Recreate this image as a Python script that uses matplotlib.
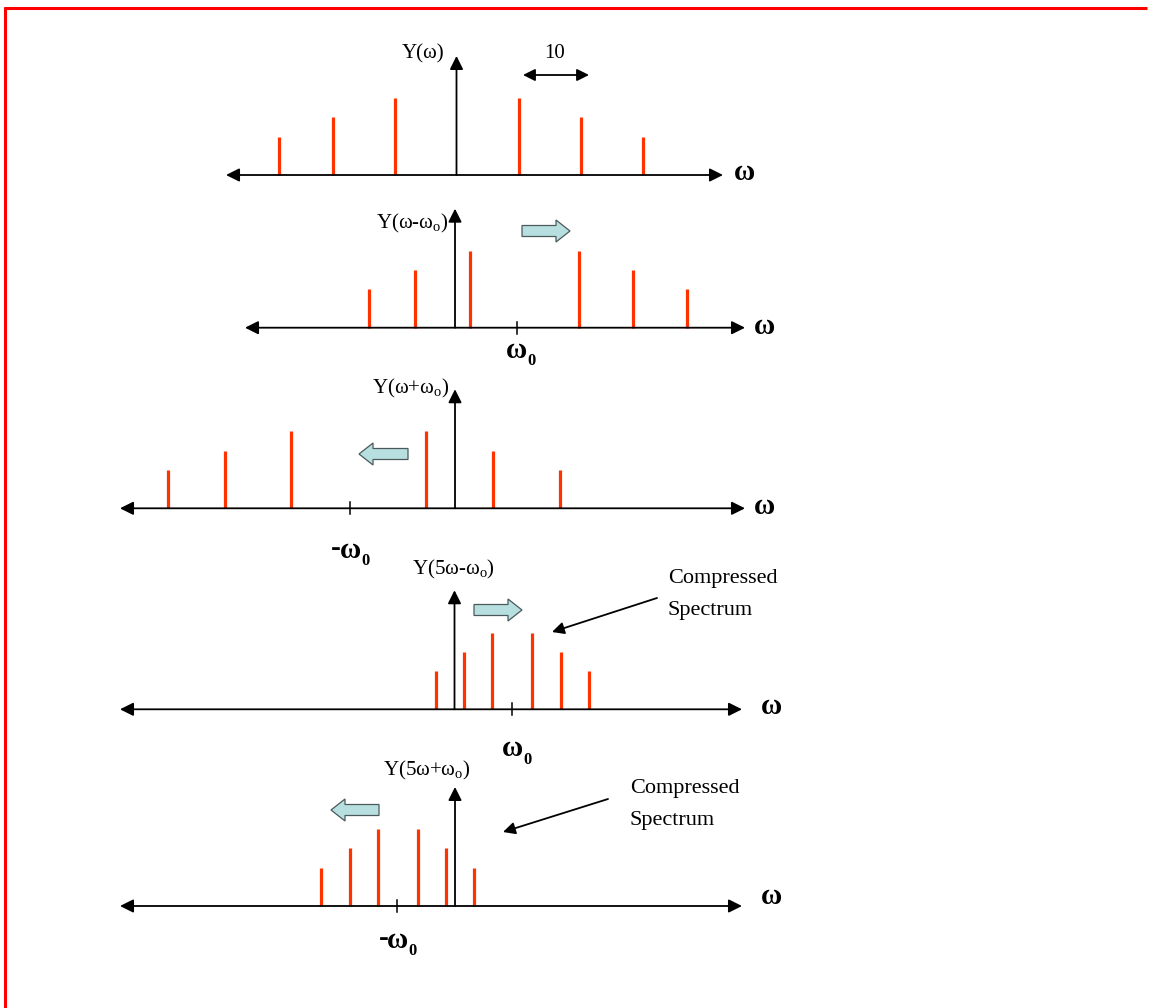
import matplotlib
matplotlib.use("Agg")
import matplotlib.pyplot as plt
from matplotlib.patches import FancyArrow

plt.rcParams["font.family"] = ["Liberation Serif", "DejaVu Serif"]
plt.rcParams["mathtext.fontset"] = "custom"
plt.rcParams["mathtext.rm"] = "Liberation Serif"
plt.rcParams["mathtext.it"] = "Liberation Serif:italic"
plt.rcParams["mathtext.bf"] = "Liberation Serif:bold"

W, H = 1151, 1008
SX, SY = 6.2, 19.2          # pixels per unit of ω and per unit of amplitude

# ---- spectrum data (ω position of each line, amplitude of each line) ----
amp = [2, 3, 4, 4, 3, 2]
freq_orig = [-28.7, -20.0, -10.0, 10.0, 20.0, 30.0]          # Y(ω)
freq_shift_pos = [-13.9, -6.4, 2.4, 20.0, 28.7, 37.4]        # Y(ω-ωo)
freq_shift_neg = [-46.3, -37.1, -26.5, -4.7, 6.2, 16.9]      # Y(ω+ωo)
freq_comp_pos = [-3.0, 1.5, 6.0, 12.5, 17.1, 21.7]           # Y(5ω-ωo)
freq_comp_neg = [-21.6, -17.0, -12.5, -6.0, -1.5, 3.0]       # Y(5ω+ωo)
w0_marks = [None, 10.0, -16.9, 9.3, -9.3]                    # position of ±ωo

titles = ["Y(ω)", "Y(ω-ω$_\\mathrm{o}$)", "Y(ω+ω$_\\mathrm{o}$)",
          "Y(5ω-ω$_\\mathrm{o}$)", "Y(5ω+ω$_\\mathrm{o}$)"]
w0_signs = ["", "", "-", "", "-"]

series = [freq_orig, freq_shift_pos, freq_shift_neg, freq_comp_pos, freq_comp_neg]

# ---- layout (pixels) ----
origins = [(456.5, 175.0), (455.0, 327.7), (455.0, 508.3), (454.5, 709.3), (455.0, 906.0)]
h_extent = [(226, 723), (245, 745), (120, 745), (120, 742), (120, 742)]
title_pos = [(423, 54), (412, 223), (411, 388), (453, 569), (427, 770)]
omega_pos = [(745, 173), (765, 327), (765, 507), (772, 707), (772, 897)]
w0_label_y = [None, 350, 550, 749, 940]
shift_arrows = [None, (522, 570, 231), (408, 359, 454), (474, 522, 610), (379, 331, 810)]
V_TOP = 6.2

RED = "#ff3300"
fig = plt.figure(figsize=(W / 100, H / 100), dpi=100)

for k in range(5):
    x0, y0 = origins[k]
    ax = fig.add_axes([0, 0, 1, 1])
    ax.set_xlim(-x0 / SX, (W - x0) / SX)
    ax.set_ylim((y0 - H) / SY, y0 / SY)
    ax.axis("off")
    ax.patch.set_alpha(0)

    ax.vlines(series[k], 0, amp, colors=RED, lw=2.3, zorder=2)

    left, right = [(p - x0) / SX for p in h_extent[k]]
    ax.annotate("", xy=(right, 0), xytext=(left, 0),
                arrowprops=dict(arrowstyle="<|-|>", lw=1.3, color="black",
                                mutation_scale=20, shrinkA=0, shrinkB=0), zorder=3)
    ax.annotate("", xy=(0, V_TOP), xytext=(0, 0),
                arrowprops=dict(arrowstyle="-|>", lw=1.3, color="black",
                                mutation_scale=20, shrinkA=0, shrinkB=0), zorder=3)
    if w0_marks[k] is not None:
        ax.plot([w0_marks[k], w0_marks[k]], [-0.31, 0.31], color="black", lw=1.1, zorder=3)

# ---- overlay for text, frame and decorations (pixel coordinates) ----
ov = fig.add_axes([0, 0, 1, 1])
ov.set_xlim(0, W)
ov.set_ylim(H, 0)
ov.axis("off")
ov.patch.set_alpha(0)

# frame: left and top edges
ov.plot([5, 5], [H, 7], color="#ff0000", lw=2.2, solid_capstyle="butt", clip_on=False)
ov.plot([4, W - 4], [8, 8], color="#ff0000", lw=2.2, solid_capstyle="butt", clip_on=False)

for k in range(5):
    x0, y0 = origins[k]
    ov.text(*title_pos[k], titles[k], fontsize=15, ha="center", va="center")
    ov.text(*omega_pos[k], "ω", fontsize=21, fontweight="bold", ha="center", va="center")
    if w0_marks[k] is not None:
        xt = x0 + w0_marks[k] * SX
        yl = w0_label_y[k]
        ov.text(xt, yl, "ω", fontsize=21, fontweight="bold", ha="center", va="center")
        ov.text(xt + 15, yl + 11, "0", fontsize=12, fontweight="bold", ha="center", va="center")
        if w0_signs[k]:
            ov.text(xt - 9, yl - 2, "-", fontsize=21, fontweight="bold", ha="right", va="center")
    if shift_arrows[k] is not None:
        xa, xb, yc = shift_arrows[k]
        ov.add_patch(FancyArrow(xa, yc, xb - xa, 0, width=11, head_width=22,
                                head_length=14, length_includes_head=True,
                                facecolor="#b8dfe0", edgecolor="#4a5a5a", lw=0.9))

# spacing marker on the first plot
ov.annotate("", xy=(589, 75), xytext=(523, 75),
            arrowprops=dict(arrowstyle="<|-|>", lw=1.3, color="black",
                            mutation_scale=18, shrinkA=0, shrinkB=0))
ov.text(555, 54, "10", fontsize=15, ha="center", va="center")

# notes on the compressed spectra
for (tx, ty), (ax_from, ax_to) in [((668, 578), ((657, 598), (552, 632))),
                                   ((630, 789), ((608, 799), (503, 832)))]:
    ov.text(tx, ty, "Compressed", fontsize=16, ha="left", va="center")
    ov.text(tx, ty + 32, "Spectrum", fontsize=16, ha="left", va="center")
    ov.annotate("", xy=ax_to, xytext=ax_from,
                arrowprops=dict(arrowstyle="-|>", lw=1.3, color="black",
                                mutation_scale=18, shrinkA=0, shrinkB=0))

fig.savefig("out.png", dpi=100)
